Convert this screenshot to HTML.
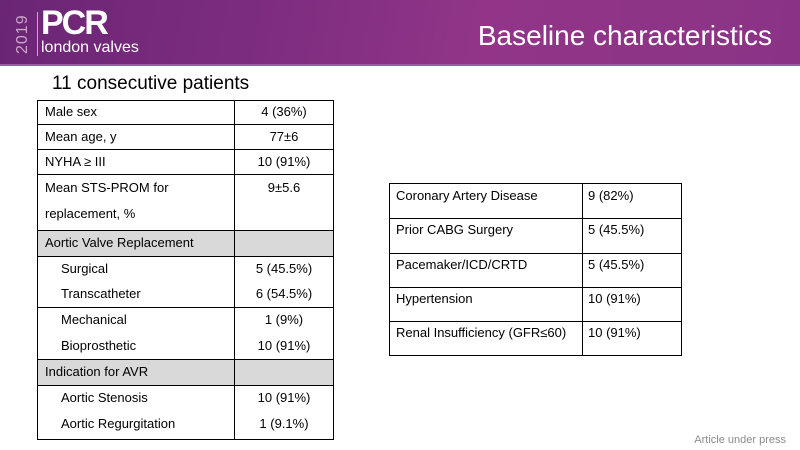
<!DOCTYPE html>
<html><head><style>
*{margin:0;padding:0;box-sizing:border-box}
body{width:800px;height:450px;position:relative;overflow:hidden;background:#fff;font-family:"Liberation Sans",sans-serif;color:#000}
.hdr{position:absolute;left:0;top:0;width:800px;height:66px;background:linear-gradient(100deg,#6b2575 0%,#7e2d80 35%,#923588 60%,#8a3386 100%)}
.hdr:after{content:"";position:absolute;left:0;right:0;bottom:0;height:2px;background:#a45a9e}
.t{position:absolute;font-size:13px;white-space:nowrap}
.line{position:absolute;background:#000}
.g{position:absolute;background:#d9d9d9}
</style></head><body>
<div class="hdr">
<div style="position:absolute;left:14px;top:54px;transform:rotate(-90deg);transform-origin:0 0;color:#c9a6c9;font-size:16px;letter-spacing:1px">2019</div>
<div style="position:absolute;left:37px;top:12px;width:1px;height:44px;background:#c9a6c9"></div>
<div style="position:absolute;left:41px;top:4px;color:#fff;font-size:34px;font-weight:bold;letter-spacing:-2px">PCR</div>
<div style="position:absolute;left:41px;top:39px;color:#fff;font-size:16px">london valves</div>
<div style="position:absolute;right:28px;top:20px;color:#fff;font-size:28px">Baseline characteristics</div>
</div>
<div class="t" style="left:52px;top:73px;font-size:19px">11 consecutive patients</div>

<div class="g" style="left:37px;top:230px;width:296px;height:26px"></div>
<div class="g" style="left:37px;top:359px;width:296px;height:26px"></div>
<div class="line" style="left:37px;top:100px;width:1px;height:340px"></div>
<div class="line" style="left:333px;top:100px;width:1px;height:340px"></div>
<div class="line" style="left:234px;top:100px;width:1px;height:340px"></div>
<div class="line" style="left:37px;top:100px;width:297px;height:1px"></div>
<div class="line" style="left:37px;top:124px;width:297px;height:1px"></div>
<div class="line" style="left:37px;top:149px;width:297px;height:1px"></div>
<div class="line" style="left:37px;top:174px;width:297px;height:1px"></div>
<div class="line" style="left:37px;top:230px;width:297px;height:1px"></div>
<div class="line" style="left:37px;top:256px;width:297px;height:1px"></div>
<div class="line" style="left:37px;top:307px;width:297px;height:1px"></div>
<div class="line" style="left:37px;top:359px;width:297px;height:1px"></div>
<div class="line" style="left:37px;top:385px;width:297px;height:1px"></div>
<div class="line" style="left:37px;top:439px;width:297px;height:1px"></div>

<div class="t" style="left:45px;top:104px">Male sex</div><div class="t" style="left:234px;width:100px;text-align:center;top:104px">4 (36%)</div>
<div class="t" style="left:45px;top:129px">Mean age, y</div><div class="t" style="left:234px;width:100px;text-align:center;top:129px">77±6</div>
<div class="t" style="left:45px;top:154px">NYHA ≥ III</div><div class="t" style="left:234px;width:100px;text-align:center;top:154px">10 (91%)</div>
<div class="t" style="left:45px;top:180px">Mean STS-PROM for</div><div class="t" style="left:234px;width:100px;text-align:center;top:180px">9±5.6</div>
<div class="t" style="left:45px;top:206px">replacement, %</div>
<div class="t" style="left:45px;top:235px">Aortic Valve Replacement</div>
<div class="t" style="left:61px;top:261px">Surgical</div><div class="t" style="left:234px;width:100px;text-align:center;top:261px">5 (45.5%)</div>
<div class="t" style="left:61px;top:286px">Transcatheter</div><div class="t" style="left:234px;width:100px;text-align:center;top:286px">6 (54.5%)</div>
<div class="t" style="left:61px;top:312px">Mechanical</div><div class="t" style="left:234px;width:100px;text-align:center;top:312px">1 (9%)</div>
<div class="t" style="left:61px;top:338px">Bioprosthetic</div><div class="t" style="left:234px;width:100px;text-align:center;top:338px">10 (91%)</div>
<div class="t" style="left:45px;top:364px">Indication for AVR</div>
<div class="t" style="left:61px;top:390px">Aortic Stenosis</div><div class="t" style="left:234px;width:100px;text-align:center;top:390px">10 (91%)</div>
<div class="t" style="left:61px;top:416px">Aortic Regurgitation</div><div class="t" style="left:234px;width:100px;text-align:center;top:416px">1 (9.1%)</div>

<div class="line" style="left:389px;top:183px;width:1px;height:172px"></div>
<div class="line" style="left:681px;top:183px;width:1px;height:172px"></div>
<div class="line" style="left:582px;top:183px;width:1px;height:172px"></div>
<div class="line" style="left:389px;top:183px;width:293px;height:1px"></div>
<div class="line" style="left:389px;top:218px;width:293px;height:1px"></div>
<div class="line" style="left:389px;top:253px;width:293px;height:1px"></div>
<div class="line" style="left:389px;top:287px;width:293px;height:1px"></div>
<div class="line" style="left:389px;top:321px;width:293px;height:1px"></div>
<div class="line" style="left:389px;top:355px;width:293px;height:1px"></div>
<div class="t" style="left:396px;top:188px">Coronary Artery Disease</div><div class="t" style="left:588px;top:188px">9 (82%)</div>
<div class="t" style="left:396px;top:222px">Prior CABG Surgery</div><div class="t" style="left:588px;top:222px">5 (45.5%)</div>
<div class="t" style="left:396px;top:257px">Pacemaker/ICD/CRTD</div><div class="t" style="left:588px;top:257px">5 (45.5%)</div>
<div class="t" style="left:396px;top:291px">Hypertension</div><div class="t" style="left:588px;top:291px">10 (91%)</div>
<div class="t" style="left:396px;top:325px">Renal Insufficiency (GFR≤60)</div><div class="t" style="left:588px;top:325px">10 (91%)</div>

<div class="t" style="right:14px;top:434px;font-size:11px;color:#8c8c8c">Article under press</div>
</body></html>
